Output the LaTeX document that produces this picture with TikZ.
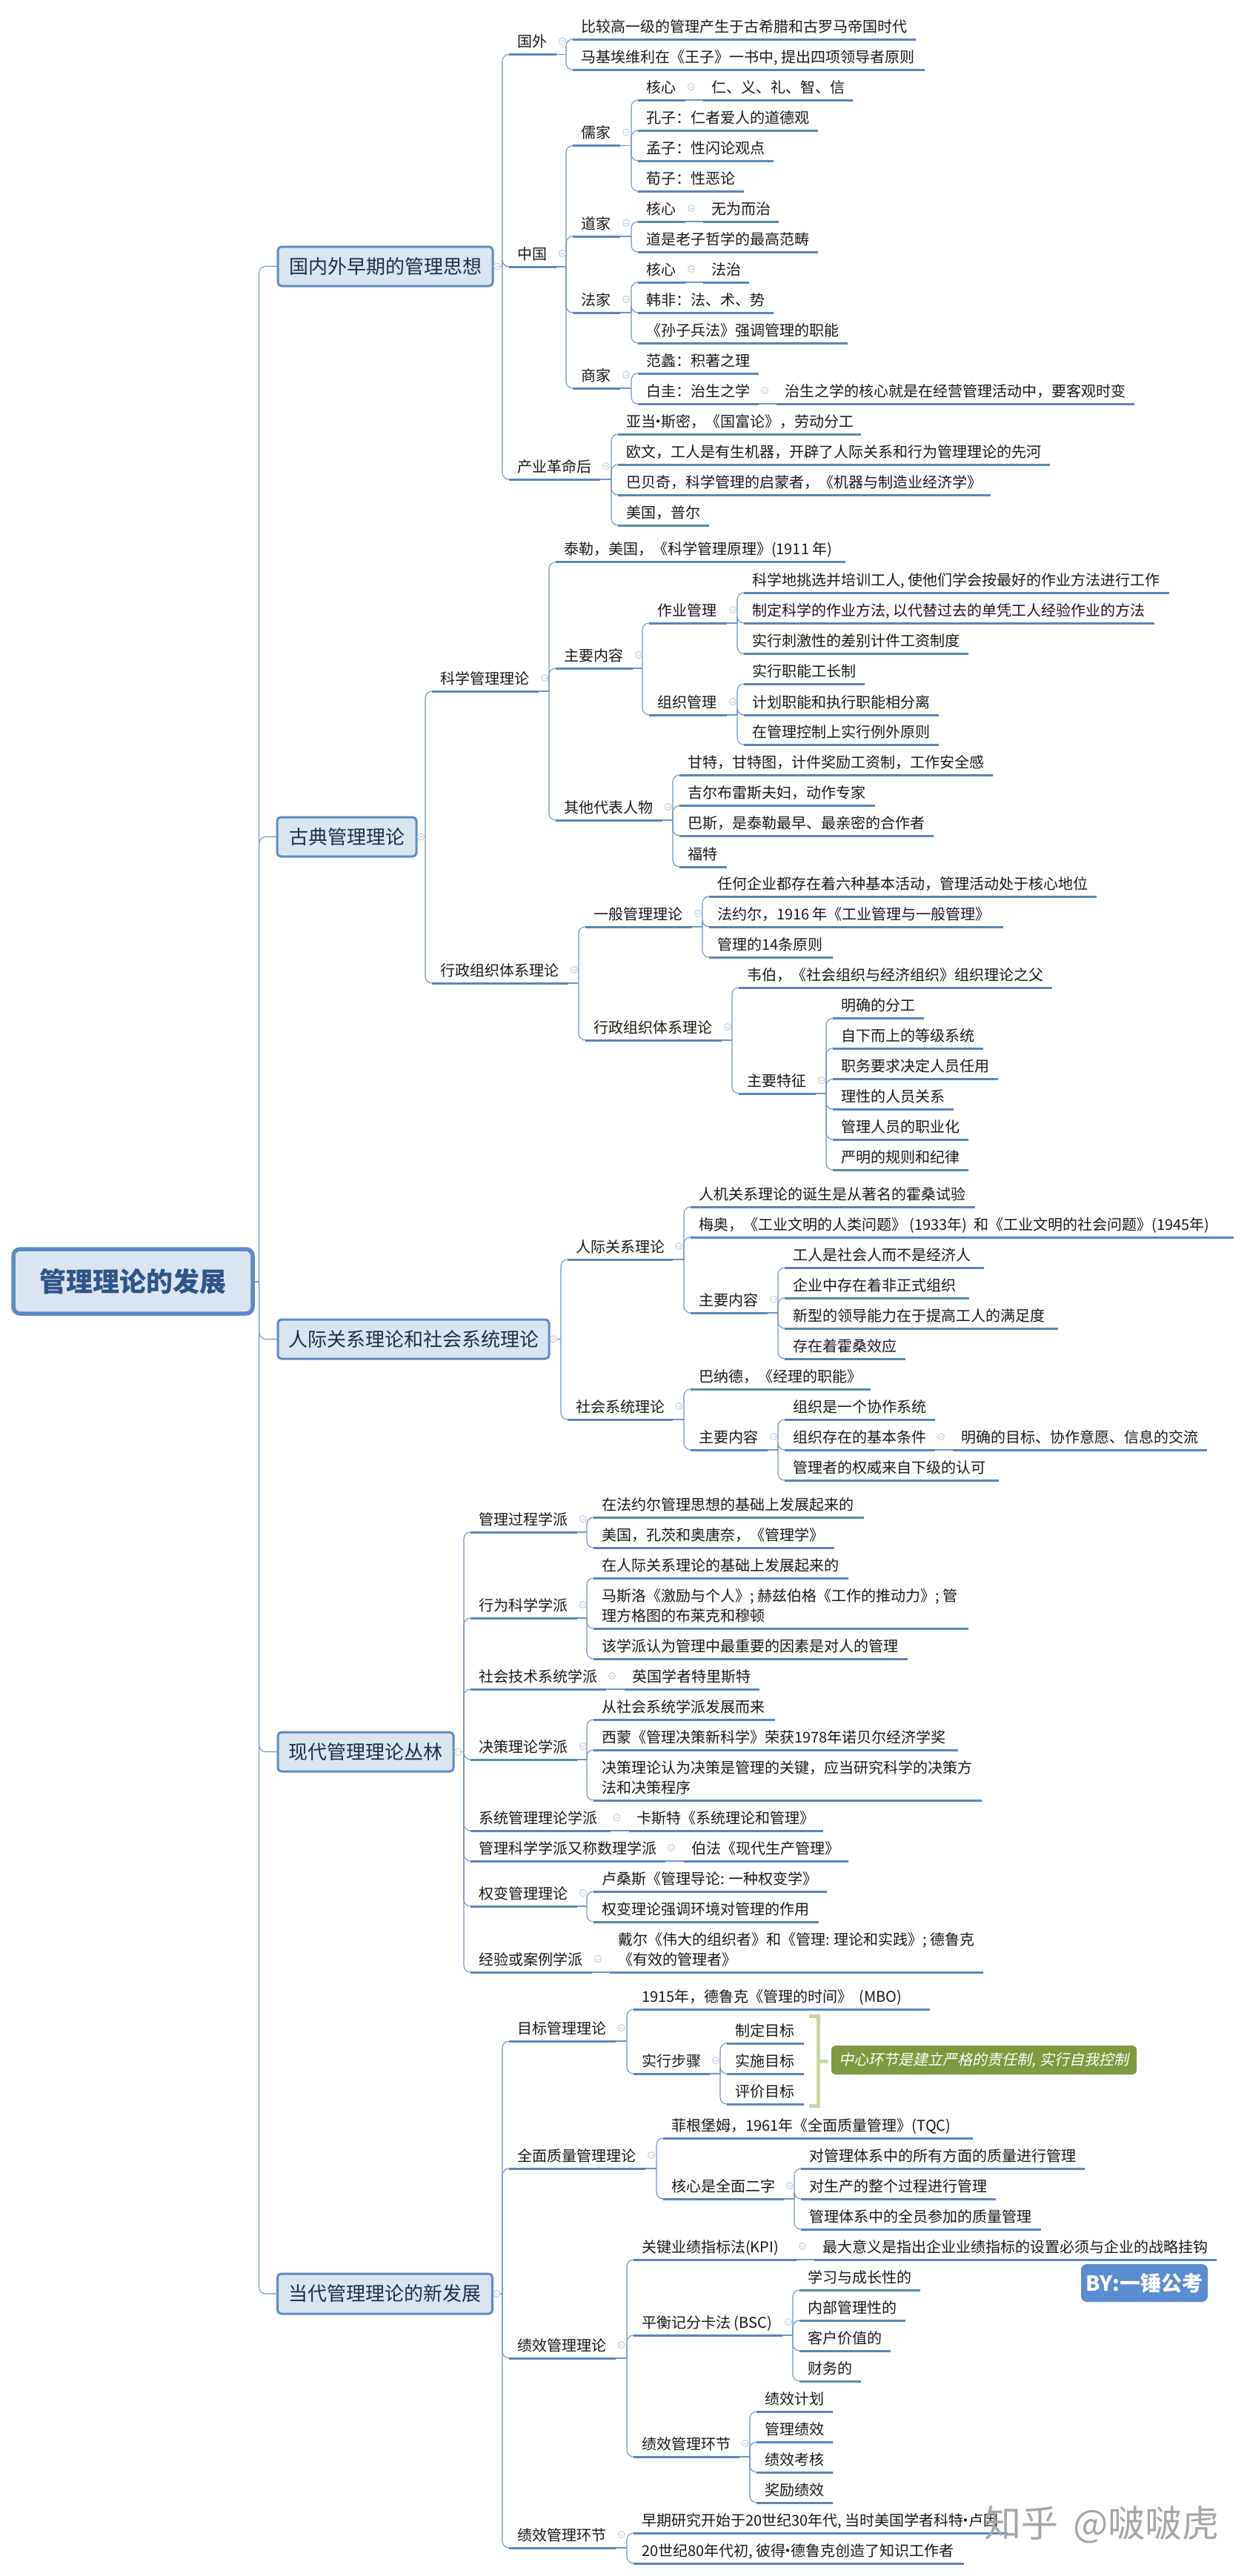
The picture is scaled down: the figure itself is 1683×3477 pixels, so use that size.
\documentclass[tikz,border=0pt]{standalone}
\usepackage{fontspec}
\setmainfont[Kerning=Off]{Noto Sans CJK SC}
\newfontfamily\slantcjk[FakeSlant=0.22,Kerning=Off]{Noto Sans CJK SC}
\newcommand\mdot{\kern-6.5pt·\kern-6.5pt}
\definecolor{uline}{HTML}{5B86B8}
\definecolor{connc}{HTML}{7396BF}
\definecolor{boxfill}{HTML}{DBE5F1}
\definecolor{boxline}{HTML}{5F8BC2}
\definecolor{rootline}{HTML}{5B8AC6}
\definecolor{roottext}{HTML}{2F5487}
\definecolor{boxtext}{HTML}{1D2F4A}
\definecolor{clc}{HTML}{C3CEDD}
\definecolor{calloutc}{HTML}{7F993F}
\definecolor{brkc}{HTML}{C8D6A4}
\definecolor{byc}{HTML}{5B8BD0}
\tikzset{
  leaf/.style={anchor=south west,inner xsep=11pt,inner ysep=6pt,outer sep=0pt,text depth=4pt,text=black!90,font=\fontsize{20}{27}\selectfont},
  ulinestyle/.style={draw=uline,line width=3pt},
  conn/.style={draw=connc,line width=1.1pt},
  connr/.style={conn,rounded corners=9pt},
  topbox/.style={draw=boxline,line width=3pt,fill=boxfill,rounded corners=5pt,inner sep=0pt,outer sep=0pt,text=boxtext,font=\fontsize{26}{30}\selectfont},
  rootbox/.style={draw=rootline,line width=5.5pt,fill=boxfill,rounded corners=9pt,inner sep=0pt,outer sep=0pt,text=roottext,font=\fontsize{36}{42}\selectfont\bfseries},
  collapse/.style={draw=clc,line width=1pt,fill=white}
}
% name, x1, x2, y(of underline), text
\newcommand\lf[5]{%
  \pgfmathsetlengthmacro\lfwidth{#3-#2-22}%
  \node[leaf] (#1) at (#2,#4) {\makebox[\lfwidth][l]{#5}};%
  \draw[ulinestyle] (#1.south west) -- (#1.south east);}
\newcommand\two[2]{\parbox[b]{560pt}{#1\\#2}}
% from an anchor to a child underline, through a spine
\newcommand\cn[2]{%
  \draw[conn] (#1) -- ([xshift=-9pt]#2.south west |- #1);%
  \draw[connr] ([xshift=-9pt]#2.south west |- #1) -- ([xshift=-9pt]#2.south west) -- (#2.south west);}
\newcommand\cnmany[2]{\foreach \kid in {#2} {\cn{#1.south east}{\kid}}}
\newcommand\cnbox[2]{\foreach \kid in {#2} {\cn{#1.east}{\kid}}}
\newcommand\st[2]{\draw[conn] (#1.south east) -- (#2.south west);}
\newcommand\cl[1]{%
  \draw[collapse] ([xshift=8pt,yshift=18pt]#1.south east) circle (4.5pt);%
  \draw[draw=clc,line width=1pt] ([xshift=5.5pt,yshift=18pt]#1.south east) -- ([xshift=10.5pt,yshift=18pt]#1.south east);}
\newcommand\clb[1]{%
  \draw[collapse] ([xshift=6pt]#1.east) circle (4.5pt);%
  \draw[draw=clc,line width=1pt] ([xshift=3.5pt]#1.east) -- ([xshift=8.5pt]#1.east);}
\newcommand\cnroot[1]{%
  \draw[conn] (root.east) -- (349.6,1730);%
  \draw[connr] (349.6,1730) -- (#1.west -| 349.6,1730) -- (#1.west);}
\begin{document}
\begin{tikzpicture}[x=1pt,y=-1pt]
\useasboundingbox (0,0) rectangle (1683,3477);
\fill[white] (0,0) rectangle (1683,3477);
% root and main branches
\node[rootbox,minimum width=323pt,minimum height=87pt] (root) at (179.5,1729.5) {管理理论的发展};
\node[topbox,minimum width=290pt,minimum height=53pt] (b1) at (520,359.5) {国内外早期的管理思想};
\node[topbox,minimum width=188pt,minimum height=53pt] (b2) at (468,1129.5) {古典管理理论};
\node[topbox,minimum width=366pt,minimum height=53pt] (b3) at (558,1807.5) {人际关系理论和社会系统理论};
\node[topbox,minimum width=237pt,minimum height=53pt] (b4) at (493.5,2364.5) {现代管理理论丛林};
\node[topbox,minimum width=290pt,minimum height=54pt] (b5) at (519.5,3096) {当代管理理论的新发展};
\foreach \b in {b1,b2,b3,b4,b5} {\cnroot{\b}}
% ---------- branch 1
\lf{aa}{687}{751}{73.5}{国外}
\lf{aa1}{773}{1236}{53}{比较高一级的管理产生于古希腊和古罗马帝国时代}
\lf{aa2}{773}{1248}{94}{马基埃维利在《王子》一书中, 提出四项领导者原则}
\lf{ab}{687}{751}{360}{中国}
\lf{ab1}{773}{837}{196.5}{儒家}
\lf{ab1a}{861}{925}{135}{核心}
\lf{ab1x}{949}{1151}{135}{仁、义、礼、智、信}
\lf{ab1b}{861}{1104}{176}{孔子：仁者爱人的道德观}
\lf{ab1c}{861}{1044}{217}{孟子：性闪论观点}
\lf{ab1d}{861}{1004}{258}{荀子：性恶论}
\lf{ab2}{773}{837}{319}{道家}
\lf{ab2a}{861}{925}{299}{核心}
\lf{ab2x}{949}{1051}{299}{无为而治}
\lf{ab2b}{861}{1104}{340}{道是老子哲学的最高范畴}
\lf{ab3}{773}{837}{422}{法家}
\lf{ab3a}{861}{925}{381}{核心}
\lf{ab3x}{949}{1011}{381}{法治}
\lf{ab3b}{861}{1044}{422}{韩非：法、术、势}
\lf{ab3c}{861}{1144}{463}{《孙子兵法》强调管理的职能}
\lf{ab4}{773}{837}{524}{商家}
\lf{ab4a}{861}{1024}{504}{范蠡：积著之理}
\lf{ab4b}{861}{1024}{545}{白圭：治生之学}
\lf{ab4x}{1048}{1531}{545}{治生之学的核心就是在经营管理活动中，要客观时变}
\lf{ac}{687}{810}{647}{产业革命后}
\lf{ac1}{834}{1162}{586}{亚当\mdot 斯密，《国富论》，劳动分工}
\lf{ac2}{834}{1417}{627}{欧文，工人是有生机器，开辟了人际关系和行为管理理论的先河}
\lf{ac3}{834}{1337}{668}{巴贝奇，科学管理的启蒙者，《机器与制造业经济学》}
\lf{ac4}{834}{957}{709}{美国，普尔}
\cnbox{b1}{aa,ab,ac}
\cnmany{aa}{aa1,aa2}
\cnmany{ab}{ab1,ab2,ab3,ab4}
\cnmany{ab1}{ab1a,ab1b,ab1c,ab1d}
\cnmany{ab2}{ab2a,ab2b}
\cnmany{ab3}{ab3a,ab3b,ab3c}
\cnmany{ab4}{ab4a,ab4b}
\cnmany{ac}{ac1,ac2,ac3,ac4}
\st{ab1a}{ab1x}\st{ab2a}{ab2x}\st{ab3a}{ab3x}\st{ab4b}{ab4x}
% ---------- branch 2
\lf{ba}{583}{727}{933}{科学管理理论}
\lf{ba1}{750}{1141}{758.6}{泰勒，美国，《科学管理原理》(1911 年)}
\lf{ba2}{750}{854}{902}{主要内容}
\lf{ba2a}{876}{981}{841}{作业管理}
\lf{ba2a1}{1004}{1578}{800}{科学地挑选并培训工人, 使他们学会按最好的作业方法进行工作}
\lf{ba2a2}{1004}{1558}{841}{制定科学的作业方法, 以代替过去的单凭工人经验作业的方法}
\lf{ba2a3}{1004}{1307}{882.5}{实行刺激性的差别计件工资制度}
\lf{ba2b}{876}{981}{965}{组织管理}
\lf{ba2b1}{1004}{1167}{923}{实行职能工长制}
\lf{ba2b2}{1004}{1267}{965}{计划职能和执行职能相分离}
\lf{ba2b3}{1004}{1267}{1005}{在管理控制上实行例外原则}
\lf{ba3}{750}{894}{1107}{其他代表人物}
\lf{ba3a}{917}{1340}{1046}{甘特，甘特图，计件奖励工资制，工作安全感}
\lf{ba3b}{917}{1180.5}{1087.5}{吉尔布雷斯夫妇，动作专家}
\lf{ba3c}{917}{1260}{1128}{巴斯，是泰勒最早、最亲密的合作者}
\lf{ba3d}{917}{981}{1170}{福特}
\lf{bb}{583}{767}{1327}{行政组织体系理论}
\lf{bb1}{790}{934}{1251}{一般管理理论}
\lf{bb1a}{957}{1480}{1210}{任何企业都存在着六种基本活动，管理活动处于核心地位}
\lf{bb1b}{957}{1354}{1251}{法约尔，1916 年《工业管理与一般管理》}
\lf{bb1c}{957}{1124}{1292}{管理的14条原则}
\lf{bb2}{790}{974}{1404}{行政组织体系理论}
\lf{bb2a}{997}{1420}{1333}{韦伯，《社会组织与经济组织》组织理论之父}
\lf{bb2b}{997}{1101}{1476}{主要特征}
\lf{bb2b1}{1124}{1247}{1374.5}{明确的分工}
\lf{bb2b2}{1124}{1327}{1415}{自下而上的等级系统}
\lf{bb2b3}{1124}{1347}{1456.6}{职务要求决定人员任用}
\lf{bb2b4}{1124}{1287}{1497}{理性的人员关系}
\lf{bb2b5}{1124}{1307}{1538}{管理人员的职业化}
\lf{bb2b6}{1124}{1307}{1579}{严明的规则和纪律}
\cnbox{b2}{ba,bb}
\cnmany{ba}{ba1,ba2,ba3}
\cnmany{ba2}{ba2a,ba2b}
\cnmany{ba2a}{ba2a1,ba2a2,ba2a3}
\cnmany{ba2b}{ba2b1,ba2b2,ba2b3}
\cnmany{ba3}{ba3a,ba3b,ba3c,ba3d}
\cnmany{bb}{bb1,bb2}
\cnmany{bb1}{bb1a,bb1b,bb1c}
\cnmany{bb2}{bb2a,bb2b}
\cnmany{bb2b}{bb2b1,bb2b2,bb2b3,bb2b4,bb2b5,bb2b6}
% ---------- branch 3
\lf{ca}{766}{908}{1700}{人际关系理论}
\lf{ca1}{932}{1316}{1629}{人机关系理论的诞生是从著名的霍桑试验}
\lf{ca2}{932}{1665}{1670}{梅奥，《工业文明的人类问题》 (1933年) \ 和《工业文明的社会问题》(1945年)}
\lf{ca3}{932}{1036}{1772}{主要内容}
\lf{ca3a}{1059}{1328}{1711}{工人是社会人而不是经济人}
\lf{ca3b}{1059}{1308}{1752}{企业中存在着非正式组织}
\lf{ca3c}{1059}{1428}{1793}{新型的领导能力在于提高工人的满足度}
\lf{ca3d}{1059}{1222}{1834}{存在着霍桑效应}
\lf{cb}{766}{908}{1916}{社会系统理论}
\lf{cb1}{932}{1175}{1875}{巴纳德，《经理的职能》}
\lf{cb2}{932}{1036}{1957}{主要内容}
\lf{cb2a}{1059}{1262}{1916}{组织是一个协作系统}
\lf{cb2b}{1059}{1262}{1957}{组织存在的基本条件}
\lf{cb2x}{1286}{1629}{1957}{明确的目标、协作意愿、信息的交流}
\lf{cb2c}{1059}{1348}{1998}{管理者的权威来自下级的认可}
\cnbox{b3}{ca,cb}
\cnmany{ca}{ca1,ca2,ca3}
\cnmany{ca3}{ca3a,ca3b,ca3c,ca3d}
\cnmany{cb}{cb1,cb2}
\cnmany{cb2}{cb2a,cb2b,cb2c}
\st{cb2b}{cb2x}
% ---------- branch 4
\lf{da}{635}{779}{2068}{管理过程学派}
\lf{da1}{801}{1165.5}{2048}{在法约尔管理思想的基础上发展起来的}
\lf{da2}{801}{1125.5}{2089}{美国，孔茨和奥唐奈，《管理学》}
\lf{db}{635}{779}{2184}{行为科学学派}
\lf{db1}{801}{1145}{2130}{在人际关系理论的基础上发展起来的}
\lf{db2}{801}{1307}{2198}{\two{马斯洛《激励与个人》; 赫兹伯格《工作的推动力》; 管}{理方格图的布莱克和穆顿}}
\lf{db3}{801}{1225}{2239}{该学派认为管理中最重要的因素是对人的管理}
\lf{dc}{635}{818}{2280}{社会技术系统学派}
\lf{dcx}{842.5}{1025}{2280}{英国学者特里斯特}
\lf{dd}{635}{779}{2375}{决策理论学派}
\lf{dd1}{801}{1045.5}{2321}{从社会系统学派发展而来}
\lf{dd2}{801}{1293}{2362}{西蒙《管理决策新科学》荣获1978年诺贝尔经济学奖}
\lf{dd3}{801}{1325}{2430}{\two{决策理论认为决策是管理的关键，应当研究科学的决策方}{法和决策程序}}
\lf{de}{635}{824.4}{2471}{系统管理理论学派}
\lf{dex}{848.6}{1111}{2471}{卡斯特《系统理论和管理》}
\lf{df}{635}{898}{2512}{管理科学学派又称数理学派}
\lf{dfx}{922.5}{1145}{2512}{伯法《现代生产管理》}
\lf{dg}{635}{779}{2573}{权变管理理论}
\lf{dg1}{801}{1116.4}{2553}{卢桑斯《管理导论: 一种权变学》}
\lf{dg2}{801}{1105}{2594}{权变理论强调环境对管理的作用}
\lf{dh}{635}{799}{2662}{经验或案例学派}
\lf{dhx}{823}{1327}{2662}{\two{戴尔《伟大的组织者》和《管理: 理论和实践》; 德鲁克}{《有效的管理者》}}
\cnbox{b4}{da,db,dc,dd,de,df,dg,dh}
\cnmany{da}{da1,da2}
\cnmany{db}{db1,db2,db3}
\cnmany{dd}{dd1,dd2,dd3}
\cnmany{dg}{dg1,dg2}
\st{dc}{dcx}\st{de}{dex}\st{df}{dfx}\st{dh}{dhx}
% ---------- branch 5
\lf{ea}{687}{830.5}{2755}{目标管理理论}
\lf{ea1}{855}{1254.5}{2712}{1915年，德鲁克《管理的时间》 \ (MBO)}
\lf{ea2}{855}{958}{2799}{实行步骤}
\lf{ea2a}{981}{1085}{2758}{制定目标}
\lf{ea2b}{981}{1085}{2799}{实施目标}
\lf{ea2c}{981}{1085}{2840}{评价目标}
\lf{eb}{687}{871}{2927}{全面质量管理理论}
\lf{eb1}{895}{1312.6}{2886}{菲根堡姆，1961年《全面质量管理》(TQC)}
\lf{eb2}{895}{1057.6}{2968}{核心是全面二字}
\lf{eb2a}{1081}{1464}{2927}{对管理体系中的所有方面的质量进行管理}
\lf{eb2b}{1081}{1344}{2968}{对生产的整个过程进行管理}
\lf{eb2c}{1081}{1405}{3009}{管理体系中的全员参加的质量管理}
\lf{ec}{687}{830.5}{3183}{绩效管理理论}
\lf{ec1}{855}{1075}{3050}{关键业绩指标法(KPI)}
\lf{ec1x}{1099}{1642}{3050}{最大意义是指出企业业绩指标的设置必须与企业的战略挂钩}
\lf{ec2}{855}{1056}{3152}{平衡记分卡法 (BSC)}
\lf{ec2a}{1079}{1242}{3091}{学习与成长性的}
\lf{ec2b}{1079}{1222}{3132}{内部管理性的}
\lf{ec2c}{1079}{1202}{3173}{客户价值的}
\lf{ec2d}{1079}{1162}{3214}{财务的}
\lf{ec3}{855}{998}{3316}{绩效管理环节}
\lf{ec3a}{1021}{1124}{3255}{绩效计划}
\lf{ec3b}{1021}{1124}{3296}{管理绩效}
\lf{ec3c}{1021}{1124}{3337}{绩效考核}
\lf{ec3d}{1021}{1124}{3378}{奖励绩效}
\lf{ed}{687}{830.5}{3439}{绩效管理环节}
\lf{ed1}{855}{1360}{3419}{早期研究开始于20世纪30年代, 当时美国学者科特\mdot 卢因}
\lf{ed2}{855}{1301}{3460}{20世纪80年代初, 彼得\mdot 德鲁克创造了知识工作者}
\cnbox{b5}{ea,eb,ec,ed}
\cnmany{ea}{ea1,ea2}
\cnmany{ea2}{ea2a,ea2b,ea2c}
\cnmany{eb}{eb1,eb2}
\cnmany{eb2}{eb2a,eb2b,eb2c}
\cnmany{ec}{ec1,ec2,ec3}
\cnmany{ec2}{ec2a,ec2b,ec2c,ec2d}
\cnmany{ec3}{ec3a,ec3b,ec3c,ec3d}
\cnmany{ed}{ed1,ed2}
\st{ec1}{ec1x}
% collapse marks
\foreach \b in {b1,b2,b3,b4,b5} {\clb{\b}}
\foreach \p in {aa,ab,ab1,ab1a,ab2,ab2a,ab3,ab3a,ab4,ab4b,ac,ba,ba2,ba2a,ba2b,ba3,bb,bb1,bb2,bb2b,ca,ca3,cb,cb2,cb2b,da,db,dc,dd,de,df,dg,dh,ea,ea2,eb,eb2,ec,ec1,ec2,ec3,ed} {\cl{\p}}
% summary bracket and callout
\node[fill=calloutc,rounded corners=6pt,inner sep=0pt,minimum width=412pt,minimum height=39pt,text=white,font=\fontsize{20}{24}\selectfont\slantcjk] (call) at (1328,2780.5) {中心环节是建立严格的责任制, 实行自我控制};
\coordinate (brk) at (1104.5,2782);
\draw[draw=brkc,line width=5pt] (1092,2721) -- (1104.5,2721) -- (1104.5,2842) -- (1092,2842);
\draw[draw=brkc,line width=5pt] (brk) -- ([xshift=-5pt]call.west |- brk);
% signature and watermark
\node[fill=byc,rounded corners=8pt,inner sep=0pt,minimum width=171pt,minimum height=51pt,text=white,font=\fontsize{28}{32}\selectfont\bfseries] (by) at (1544.5,3081.5) {BY:一锤公考};
\node[anchor=west,inner sep=0pt,text=black!35,font=\fontsize{50}{56}\selectfont] (mark) at (1328,3408) {知乎\hspace{20pt}@啵啵虎};
\end{tikzpicture}
\end{document}
